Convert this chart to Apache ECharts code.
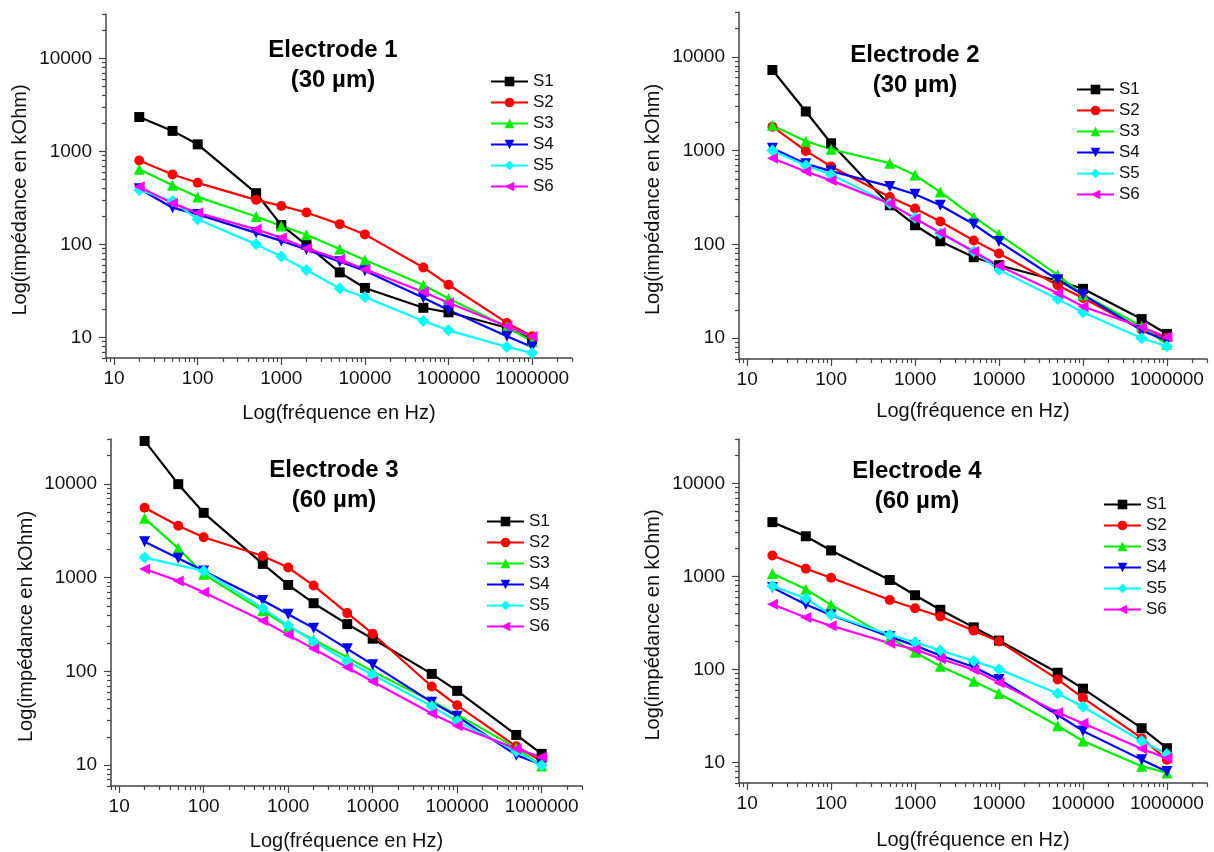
<!DOCTYPE html>
<html><head><meta charset="utf-8">
<script src="https://cdn.jsdelivr.net/npm/echarts@6/dist/echarts.min.js"></script>
<style>html,body{margin:0;padding:0;background:#fff}#c{width:1214px;height:852px}</style>
</head><body><div id="c"></div>
<script>
// ---------- data ----------
const FREQ = [20, 50, 100, 500, 1000, 2000, 5000, 10000, 50000, 100000, 500000, 1000000];
const SERIES_NAMES = ['S1', 'S2', 'S3', 'S4', 'S5', 'S6'];
const PANEL_TITLES = ['Electrode 1', 'Electrode 2', 'Electrode 3', 'Electrode 4'];
const PANEL_SUBTITLES = ['(30 µm)', '(30 µm)', '(60 µm)', '(60 µm)'];
const X_TITLE = 'Log(fréquence en Hz)';
const Y_TITLE = 'Log(impédance en kOhm)';
const X_TICK_LABELS = [10, 100, 1000, 10000, 100000, 1000000];
const Y_TICK_LABELS = [10, 100, 1000, 10000];
const X_RANGE = [8, 3000000];
const Y_RANGE = [6, 30000];

// Electrode 1 (30 µm)
const E1_S1 = [2340, 1660, 1190, 355, 161, 99, 50, 34, 20.8, 18.6, 12.7, 9.5];
const E1_S2 = [796, 563, 459, 301, 259, 220, 165, 128, 56.5, 36.8, 14.3, 10.3];
const E1_S3 = [643, 433, 324, 199, 158, 127, 89, 68, 36.5, 26.2, 13, 9];
const E1_S4 = [397, 248, 210, 133, 109, 88, 65, 52, 26.7, 19.7, 10.3, 7.9];
const E1_S5 = [384, 292, 186, 100, 74, 53, 33.6, 27.2, 15, 11.9, 7.9, 6.8];
const E1_S6 = [417, 276, 219, 145, 118, 91, 69, 54, 30.7, 23.6, 13.2, 10.2];
// Electrode 2 (30 µm)
const E2_S1 = [7230, 2610, 1196, 261, 160, 108, 73, 60, 41, 33.6, 16, 11.1];
const E2_S2 = [1796, 991, 676, 320, 241, 175, 110, 80, 36.7, 26.8, 12.4, 10.1];
const E2_S3 = [1856, 1256, 1033, 734, 548, 362, 196, 128, 47.3, 29, 13.4, 8.6];
const E2_S4 = [1059, 722, 604, 415, 342, 261, 164, 107, 42, 29, 12.1, 9.4];
const E2_S5 = [1000, 693, 557, 272, 192, 131, 84, 53.5, 26.1, 18.9, 10, 8.2];
const E2_S6 = [829, 599, 481, 272, 189, 133, 84, 59, 30.2, 21.8, 13.1, 10.3];
// Electrode 3 (60 µm)
const E3_S1 = [28600, 9900, 4900, 1400, 835, 533, 319, 223, 94, 62, 21, 13.2];
const E3_S2 = [5560, 3570, 2690, 1700, 1280, 822, 418, 252, 69, 43.5, 15.9, 11];
const E3_S3 = [4280, 2050, 1085, 442, 301, 217, 141, 100, 48, 34.6, 15.3, 9.8];
const E3_S4 = [2415, 1607, 1178, 569, 407, 289, 174, 118, 47, 33.2, 12.8, 10.2];
const E3_S5 = [1633, null, 1178, 472, 308, 208, 128, 92, 42.4, 29.4, 14.1, 10];
const E3_S6 = [1236, 922, 698, 346, 245, 174, 110, 78, 35.5, 26.4, 15, 12.2];
// Electrode 4 (60 µm)
const E4_S1 = [3830, 2700, 1900, 915, 627, 437, 283, 204, 92, 62, 23.3, 14.2];
const E4_S2 = [1675, 1208, 968, 558, 455, 371, 261, 200, 78, 49.4, 18.2, 10.7];
const E4_S3 = [1076, 727, 494, 218, 153, 108, 74.5, 55, 24.8, 17, 9.1, 7.7];
const E4_S4 = [757, 498, 384, 225, 180, 141, 106, 78, 32.3, 21.8, 10.7, 8];
const E4_S5 = [789, 578, 387, 236, 196, 160, 123, 100, 55, 39.6, 17, 12.3];
const E4_S6 = [502, 362, 295, 191, 164, 130, 99, 72, 34.4, 26.3, 14, 11.1];

const PANEL_DATA = [
  [E1_S1, E1_S2, E1_S3, E1_S4, E1_S5, E1_S6],
  [E2_S1, E2_S2, E2_S3, E2_S4, E2_S5, E2_S6],
  [E3_S1, E3_S2, E3_S3, E3_S4, E3_S5, E3_S6],
  [E4_S1, E4_S2, E4_S3, E4_S4, E4_S5, E4_S6]
];

// ---------- layout & style ----------
const FONT = '"Liberation Sans", Arial, Helvetica, sans-serif';
const GRIDS = [
  { left: 106, top: 14, width: 466, height: 344 },
  { left: 739, top: 12, width: 468, height: 347 },
  { left: 111, top: 439, width: 471, height: 349 },
  { left: 739, top: 439, width: 468, height: 344 }
];
const TITLE_POS = [[328, 30], [910, 35], [329, 450], [912, 451]];
const LEGEND_POS = [[490, 73], [1076, 81], [486, 513], [1103, 496]];
const X_NAME_GAP = [45, 42, 45, 47];
const Y_NAME_GAP = [76, 76, 75, 76];
const STYLES = [
  { color: '#000000', symbol: 'rect', rotate: 0, size: 10 },
  { color: '#ff0000', symbol: 'circle', rotate: 0, size: 10 },
  { color: '#00ee00', symbol: 'triangle', rotate: 0, size: 11 },
  { color: '#0000ff', symbol: 'triangle', rotate: 180, size: 11 },
  { color: '#00ffff', symbol: 'diamond', rotate: 0, size: 12 },
  { color: '#ff00ff', symbol: 'triangle', rotate: 90, size: 11 }
];
const AXIS_COLOR = '#444';

function minorTicks(lo, hi) {
  const out = [];
  for (let d = 1; d <= 1e7; d *= 10) {
    for (let k = 2; k <= 9; k++) {
      const v = k * d;
      if (v >= lo && v <= hi) out.push(v);
    }
  }
  return out.sort((a, b) => a - b);
}
const X_MINOR = minorTicks(X_RANGE[0], X_RANGE[1]);
const Y_MINOR = minorTicks(Y_RANGE[0], Y_RANGE[1]);

const grid = [], xAxis = [], yAxis = [], series = [], title = [], legend = [];
GRIDS.forEach((g, i) => {
  grid.push(Object.assign({ containLabel: false }, g));
  xAxis.push({
    type: 'log', logBase: 10, gridIndex: i, position: 'bottom',
    min: X_RANGE[0], max: X_RANGE[1],
    name: X_TITLE, nameLocation: 'middle', nameGap: X_NAME_GAP[i],
    nameTextStyle: { fontFamily: FONT, fontSize: 20, color: '#111' },
    axisLine: { show: true, onZero: false, lineStyle: { color: AXIS_COLOR, width: 1.5 } },
    axisTick: { show: true, inside: false, length: 7, customValues: X_TICK_LABELS, lineStyle: { color: AXIS_COLOR, width: 1.2 } },
    axisLabel: { show: true, customValues: X_TICK_LABELS, margin: 11, fontFamily: FONT, fontSize: 19, color: '#111',
      formatter: v => String(Math.round(v)) },
    splitLine: { show: false }, minorTick: { show: false }, minorSplitLine: { show: false }
  });
  xAxis.push({
    type: 'log', logBase: 10, gridIndex: i, position: 'bottom',
    min: X_RANGE[0], max: X_RANGE[1],
    axisLine: { show: false, onZero: false },
    axisTick: { show: true, inside: false, length: 4, customValues: X_MINOR, lineStyle: { color: AXIS_COLOR, width: 1.2 } },
    axisLabel: { show: false }, splitLine: { show: false }
  });
  yAxis.push({
    type: 'log', logBase: 10, gridIndex: i, position: 'left',
    min: Y_RANGE[0], max: Y_RANGE[1],
    name: Y_TITLE, nameLocation: 'middle', nameGap: Y_NAME_GAP[i], nameRotate: 90,
    nameTextStyle: { fontFamily: FONT, fontSize: 20, color: '#111', padding: [0, 28, 0, 0] },
    axisLine: { show: true, onZero: false, lineStyle: { color: AXIS_COLOR, width: 1.5 } },
    axisTick: { show: true, inside: false, length: 7, customValues: Y_TICK_LABELS, lineStyle: { color: AXIS_COLOR, width: 1.2 } },
    axisLabel: { show: true, customValues: Y_TICK_LABELS, margin: 14, fontFamily: FONT, fontSize: 19, color: '#111',
      formatter: v => String(Math.round(v)) },
    splitLine: { show: false }, minorTick: { show: false }, minorSplitLine: { show: false }
  });
  yAxis.push({
    type: 'log', logBase: 10, gridIndex: i, position: 'left',
    min: Y_RANGE[0], max: Y_RANGE[1],
    axisLine: { show: false, onZero: false },
    axisTick: { show: true, inside: false, length: 4, customValues: Y_MINOR, lineStyle: { color: AXIS_COLOR, width: 1.2 } },
    axisLabel: { show: false }, splitLine: { show: false }
  });

  PANEL_DATA[i].forEach((arr, s) => {
    const st = STYLES[s];
    series.push({
      type: 'line', name: SERIES_NAMES[s],
      xAxisIndex: 2 * i, yAxisIndex: 2 * i,
      data: FREQ.map((f, k) => [f, arr[k]]),
      connectNulls: true,
      symbol: st.symbol, symbolSize: st.size, symbolRotate: st.rotate, showAllSymbol: true,
      lineStyle: { color: st.color, width: 2.2 },
      itemStyle: { color: st.color },
      emphasis: { disabled: true }
    });
  });

  title.push({
    text: PANEL_TITLES[i] + '\n' + PANEL_SUBTITLES[i],
    left: TITLE_POS[i][0], top: TITLE_POS[i][1], textAlign: 'center',
    textStyle: { fontFamily: FONT, fontSize: 24, fontWeight: 'bold', color: '#000', lineHeight: 30 }
  });

  legend.push({
    data: SERIES_NAMES, orient: 'vertical',
    left: LEGEND_POS[i][0], top: LEGEND_POS[i][1],
    itemWidth: 37, itemHeight: 12, itemGap: 4, padding: 0,
    selectedMode: false,
    textStyle: { fontFamily: FONT, fontSize: 17, color: '#111', lineHeight: 17 }
  });
});

const chart = echarts.init(document.getElementById('c'), null, { renderer: 'canvas' });
chart.setOption({
  backgroundColor: '#ffffff', animation: false,
  grid, xAxis, yAxis, series, title, legend
});
</script></body></html>
